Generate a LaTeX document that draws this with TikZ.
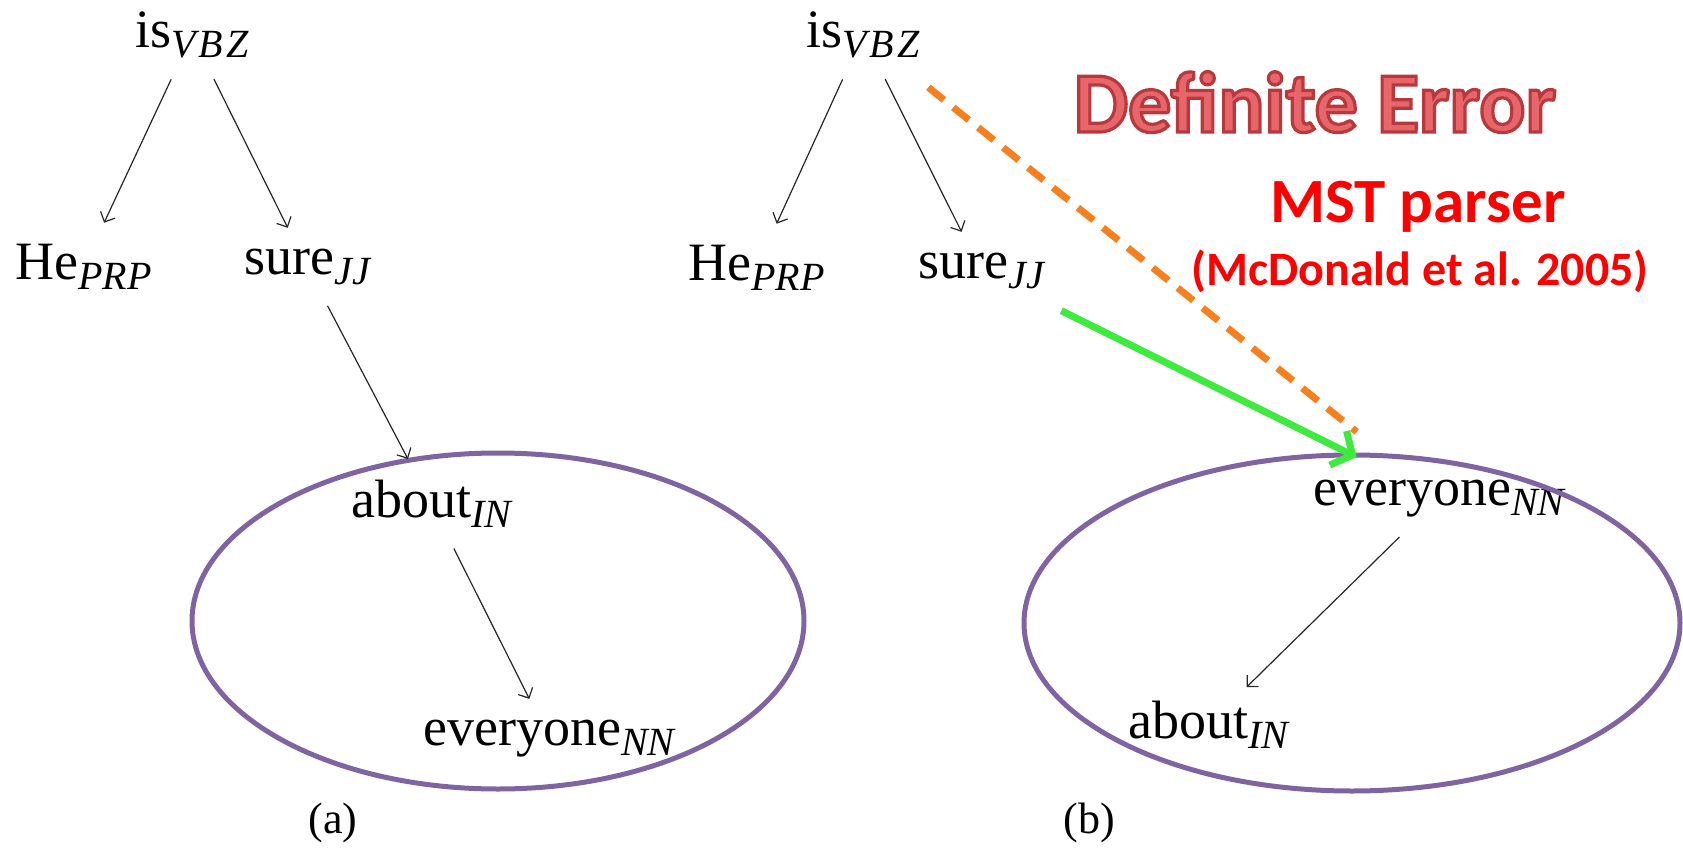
\documentclass[tikz,border=0pt]{standalone}
\usepackage{fontspec}
\setmainfont{Liberation Serif}
\newfontfamily\calibri{Carlito}
\usepackage{xcolor}
\usepackage{tikz}
\usetikzlibrary{arrows.meta}
\definecolor{ParsePurple}{HTML}{8064A2}
\definecolor{ParseOrange}{HTML}{F7801E}
\definecolor{ParseGreen}{HTML}{3DEA3D}
\definecolor{ParseRed}{HTML}{FF0000}
\definecolor{ErrFill}{HTML}{E8666A}
\definecolor{ArcGray}{HTML}{262626}

\newcommand{\tg}[1]{\raisebox{-0.2em}{\fontsize{20pt}{20pt}\selectfont\itshape #1}}
% outlined text: fill in the current colour, stroke in dark red
\newcommand{\wordart}[1]{%
  \special{pdf:literal direct 2 Tr 1.6 w 0.71 0.224 0.239 RG}#1%
  \special{pdf:literal direct 0 Tr}}

\begin{document}
\begin{tikzpicture}[x=0.5pt,y=-0.5pt,
    every node/.style={font=\fontsize{27pt}{32pt}\selectfont}]

    \tikzstyle{word}=[
      anchor=base west,
      inner sep=3pt
    ]
    \tikzstyle{arc}=[
      -{Straight Barb[length=4pt,width=8pt]},
      color=ArcGray,
      line width=0.6pt,
      shorten <=8pt,
      shorten >=8pt
    ]
    \tikzstyle{group}=[draw=ParsePurple, line width=2.5pt]

    \useasboundingbox (0,0) rectangle (1683,851);

    % --- (a): tree with about as head ---
    \node[word] (isA) at (129,47) {is\tg{V\kern1.5pt B\kern1.5pt Z}};
    \node[word] (heA) at (9,279) {He\tg{PRP}};
    \node[word] (sureA) at (238,274) {sure\tg{JJ}};
    \node[word] (aboutA) at (345,517) {about\tg{IN}};
    \node[word] (everyoneA) at (417,745) {everyone\tg{NN}};
    \node[font=\fontsize{22pt}{26pt}\selectfont] (capA) at (333,823) {(a)};

    \draw[group] (498,621) ellipse [x radius=153pt, y radius=84pt];

    \draw[arc] (isA) -- (heA);
    \draw[arc] (isA) -- (sureA);
    \draw[arc] (sureA) -- (aboutA);
    \draw[arc] (aboutA) -- (everyoneA);

    % --- (b): tree with everyone as head ---
    \node[word] (isB) at (800,47) {is\tg{V\kern1.5pt B\kern1.5pt Z}};
    \node[word] (heB) at (682,280) {He\tg{PRP}};
    \node[word] (sureB) at (912,278) {sure\tg{JJ}};
    \node[word] (everyoneB) at (1307,505) {everyone\tg{NN}};
    \node[word] (aboutB) at (1122,738) {about\tg{IN}};
    \node[font=\fontsize{22pt}{26pt}\selectfont] (capB) at (1089,823) {(b)};

    \draw[group] (1352,623) ellipse [x radius=164pt, y radius=84pt];

    \draw[arc] (isB) -- (heB);
    \draw[arc] (isB) -- (sureB);
    \draw[arc, shorten <=10pt, shorten >=5pt] (everyoneB) -- (aboutB);

    % --- wrong and right attachment ---
    \draw[ParseOrange, line width=3.5pt, dash pattern=on 10pt off 6pt,
      shorten <=18pt, shorten >=33pt] (isB) -- (everyoneB);
    \draw[ParseGreen, line width=3.5pt,
      -{Straight Barb[length=8pt,width=19pt]},
      shorten <=17pt, shorten >=18pt] (sureB) -- (everyoneB);

    % --- labels ---
    \node[anchor=base, text=ErrFill, font=\calibri\bfseries\fontsize{43pt}{50pt}\selectfont]
      (title) at (1315,132) {\wordart{Definite Error}};
    \node[anchor=base, text=ParseRed, font=\calibri\bfseries\fontsize{31.5pt}{36pt}\selectfont]
      (parser) at (1418,222) {MST parser};
    \node[anchor=base, text=ParseRed, font=\calibri\bfseries\fontsize{24pt}{28pt}\selectfont]
      (cite) at (1420,285) {(McDonald et al. 2005)};

  \end{tikzpicture}
\end{document}
